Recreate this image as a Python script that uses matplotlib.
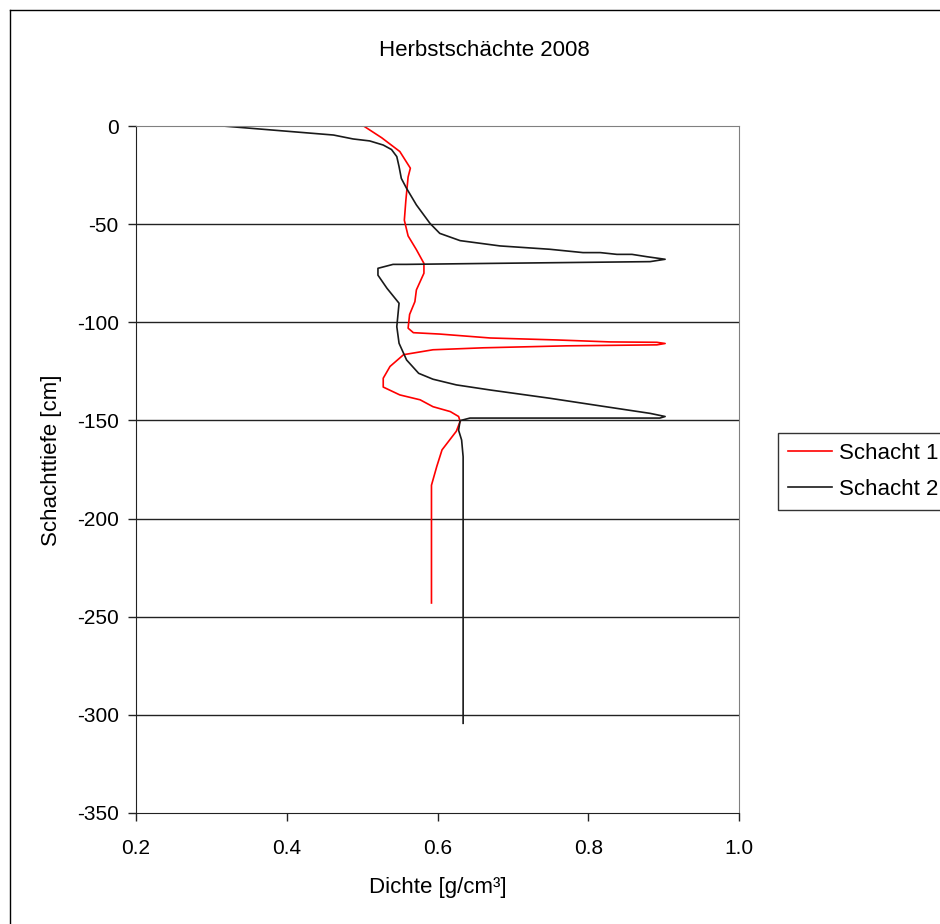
import matplotlib.pyplot as plt
from matplotlib.lines import Line2D

plt.rcParams['font.family'] = ['Liberation Sans', 'DejaVu Sans']
plt.rcParams['axes.unicode_minus'] = False

# Schacht 1 (rot)
dichte1 = [0.502, 0.526, 0.550, 0.564, 0.561, 0.558, 0.556, 0.561, 0.572, 0.582,
           0.582, 0.572, 0.570, 0.563, 0.561, 0.568, 0.603, 0.670, 0.758, 0.829,
           0.891, 0.902, 0.891, 0.771, 0.661, 0.594, 0.555, 0.537, 0.528, 0.528,
           0.550, 0.577, 0.594, 0.617, 0.628, 0.630, 0.625, 0.606, 0.599, 0.592,
           0.592]
tiefe1 = [0, -6, -13, -21.5, -26, -38, -48, -56, -63, -70,
          -75, -83.5, -89.5, -96, -103, -105.3, -106, -108, -109, -110,
          -110.2, -110.8, -111.5, -112, -113, -114, -116.5, -122.5, -128.5, -133,
          -137, -139.5, -143, -145.5, -148, -150.5, -155.5, -165, -173.5, -183,
          -243]

# Schacht 2 (schwarz)
dichte2 = [0.315, 0.462, 0.488, 0.510, 0.528, 0.539, 0.546, 0.549, 0.552, 0.559,
           0.572, 0.590, 0.603, 0.630, 0.683, 0.749, 0.793, 0.816, 0.838, 0.858,
           0.878, 0.902, 0.882, 0.670, 0.559, 0.541, 0.521, 0.521, 0.533, 0.549,
           0.546, 0.549, 0.559, 0.575, 0.594, 0.625, 0.670, 0.749, 0.816, 0.882,
           0.902, 0.895, 0.643, 0.630, 0.628, 0.632, 0.634, 0.634]
tiefe2 = [0, -4.6, -6.6, -7.6, -9.7, -12.0, -15.6, -20.7, -26.7, -31.8,
          -40.2, -49.6, -54.7, -58.4, -61.1, -62.8, -64.5, -64.5, -65.4, -65.4,
          -66.6, -67.9, -69.1, -70.0, -70.5, -70.5, -72.5, -76.0, -82.7, -90.3,
          -102.2, -110.7, -119.2, -126.0, -129.0, -131.9, -134.5, -138.7, -142.6, -146.4,
          -148.0, -148.8, -148.8, -150.1, -155.0, -160.0, -168.5, -304.3]

xticks = [0.2, 0.4, 0.6, 0.8, 1.0]
yticks = [0, -50, -100, -150, -200, -250, -300, -350]

W, H = 940, 924
fig = plt.figure(figsize=(W / 100, H / 100), dpi=100)
ax = fig.add_axes([136 / W, 1 - 813 / H, (739 - 136) / W, (813 - 126) / H])

ax.plot(dichte1, tiefe1, color='#ff0000', lw=1.2, label='Schacht 1')
ax.plot(dichte2, tiefe2, color='#1a1a1a', lw=1.2, label='Schacht 2')

ax.set_xlim(0.2, 1.0)
ax.set_ylim(-350, 0)
ax.set_xticks(xticks)
ax.set_xticklabels(['%.1f' % v for v in xticks])
ax.set_yticks(yticks)
ax.set_yticklabels([str(v) for v in yticks])

for y in yticks[1:-1]:
    ax.axhline(y, color='#222222', lw=1.0, zorder=0)

for s in ['top', 'right']:
    ax.spines[s].set_color('#808080')
for s in ['left', 'bottom']:
    ax.spines[s].set_color('#222222')
ax.tick_params(direction='out', length=5.5, width=1, colors='#222222',
               labelsize=15, labelcolor='black')
ax.tick_params(axis='y', pad=7)
ax.tick_params(axis='x', pad=13)

ax.set_xlabel('Dichte [g/cm³]', fontsize=16, labelpad=14)
ax.set_ylabel('Schachttiefe [cm]', fontsize=16)
ax.yaxis.set_label_coords(-0.1227, 0.514)
fig.text(484 / W, 1 - 50 / H, 'Herbstschächte 2008', ha='center', va='center', fontsize=16)

leg = fig.legend(loc='upper left', bbox_to_anchor=(778 / W, 1 - 433 / H),
                 fontsize=16, frameon=True, fancybox=False, edgecolor='black',
                 handlelength=2.0, handletextpad=0.28, borderaxespad=0,
                 labelspacing=0.68, borderpad=0.45)
leg.get_frame().set_linewidth(1.0)

# Rahmen um das Diagramm
fig.add_artist(Line2D([10 / W, 10 / W], [0, 1 - 10 / H], color='black', lw=1, transform=fig.transFigure))
fig.add_artist(Line2D([10 / W, 1], [1 - 10 / H, 1 - 10 / H], color='black', lw=1, transform=fig.transFigure))

fig.savefig('out.png', dpi=100)
